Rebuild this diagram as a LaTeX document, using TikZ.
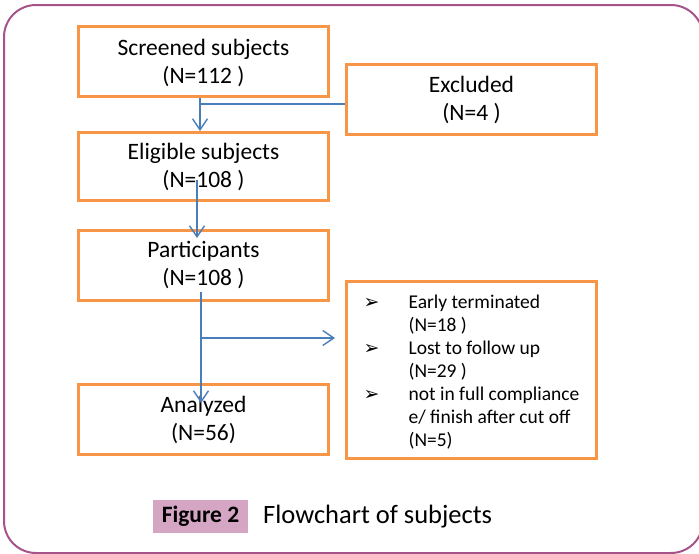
\documentclass[tikz,border=0pt]{standalone}
\usepackage{fontspec}
\setmainfont{Carlito}
\newfontfamily\bulletfont{DejaVu Sans}
\usetikzlibrary{arrows.meta}
\definecolor{boxorange}{RGB}{247,150,70}
\definecolor{flowblue}{RGB}{74,126,187}
\definecolor{framepurple}{RGB}{166,83,138}
\definecolor{tagpink}{RGB}{213,166,196}

\begin{document}
\begin{tikzpicture}[x=1pt,y=-1pt,
	stage/.style={draw=boxorange, line width=3pt, minimum width=250pt, minimum height=70pt,
		inner sep=0pt, align=center, font=\fontsize{23.5}{28}\selectfont},
	flow/.style={draw=flowblue, line width=1.4pt},
	flowto/.style={flow, -{Straight Barb[length=11pt,width=15pt]}}]
\useasboundingbox (0,0) rectangle (699,554);
\draw[framepurple, line width=2pt, rounded corners=32pt] (4,5) rectangle (703,553);

\node[stage] (screened) at (203.5,61) {\raisebox{-2pt}[\height][\depth]{Screened subjects}\\\raisebox{-2pt}[\height][\depth]{(N=112 )}};
\node[stage] (excluded) at (471.5,99.5) {Excluded\\(N=4 )};
\node[stage, minimum height=68pt] (eligible) at (203.5,166.5) {Eligible subjects\\(N=108 )};
\node[stage] (participants) at (203.5,265.5) {Participants\\(N=108 )};
\node[stage] (analyzed) at (203.5,419.5) {Analyzed\\(N=56)};
\node[stage, minimum height=177pt, font=\fontsize{19.5}{23}\selectfont] (dropped) at (471.5,370)
	{\raisebox{-3pt}[\height][\depth]{\begin{tabular}{@{}p{45pt}@{}l@{}}
	{\bulletfont\fontsize{19}{23}\selectfont ➢} & Early terminated\\
	 & (N=18 )\\
	{\bulletfont\fontsize{19}{23}\selectfont ➢} & Lost to follow up\\
	 & (N=29 )\\
	{\bulletfont\fontsize{19}{23}\selectfont ➢} & not in full compliance\\
	 & e/ finish after cut off\\
	 & (N=5)
	\end{tabular}}};

% connectors
\coordinate (split1) at (200,104);
\draw[flowto] (screened.south -| split1) -- (eligible.north -| split1);
\draw[flow] (split1) -- (excluded.west |- split1);
\coordinate (from2) at (197,180);
\coordinate (to2) at (197,238);
\draw[flowto] (from2) -- (to2);
\coordinate (from3) at (201,292);
\coordinate (split3) at (201,338);
\coordinate (to3) at (201,403);
\draw[flowto] (from3) -- (to3);
\draw[flowto] (split3) -- ([xshift=-10pt]dropped.west |- split3);

\node[fill=tagpink, minimum width=95pt, minimum height=33pt, inner sep=0pt,
	font=\bfseries\fontsize{23.5}{26}\selectfont] (figtag) at (200.5,516.5) {Figure 2};
\node[anchor=west, inner sep=0pt, font=\fontsize{26.5}{30}\selectfont] (figtitle) at (263,516.5) {Flowchart of subjects};
\end{tikzpicture}
\end{document}
